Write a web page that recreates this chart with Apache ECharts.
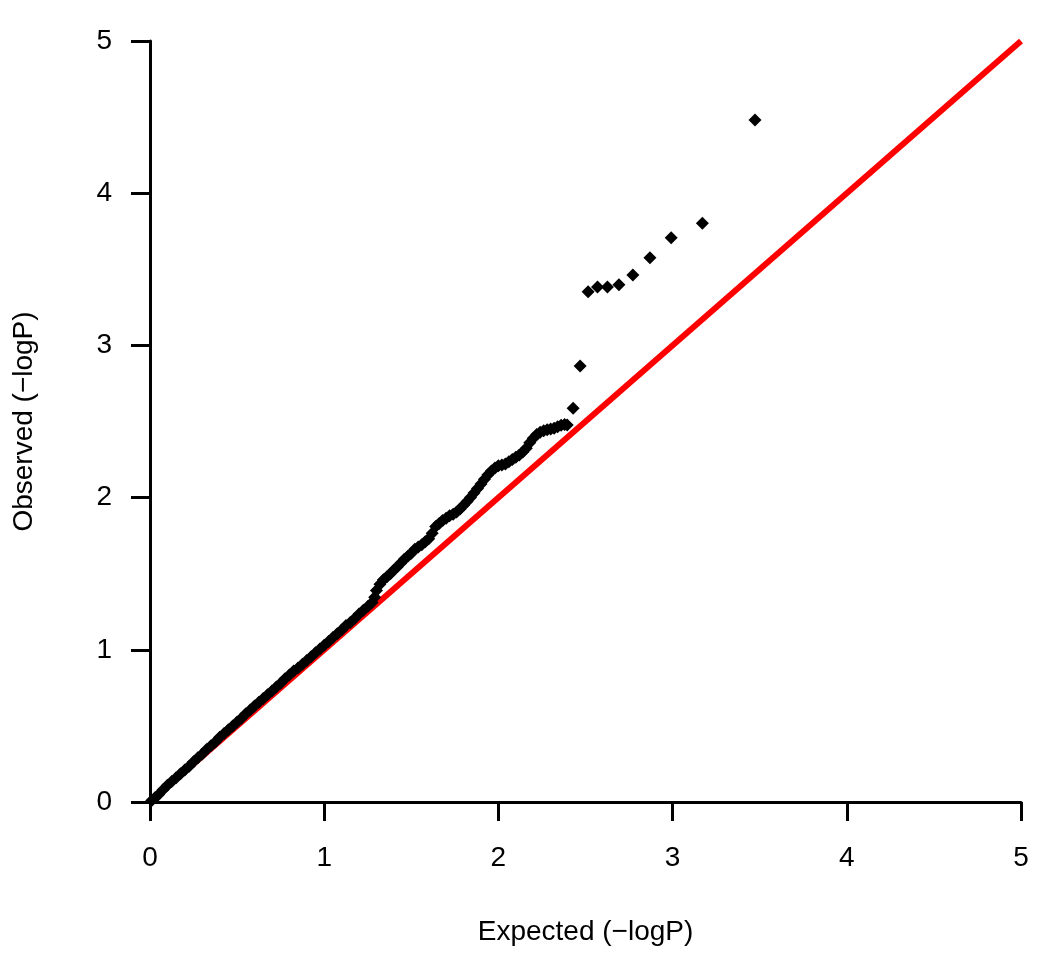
<!DOCTYPE html>
<html>
<head>
<meta charset="utf-8">
<title>QQ plot</title>
<script src="https://cdn.jsdelivr.net/npm/echarts@6/dist/echarts.min.js"></script>
<style>
  html, body { margin: 0; padding: 0; background: #fff; }
  #chart { width: 1050px; height: 965px; }
</style>
</head>
<body>
<div id="chart"></div>
<script>
// expected (-logP) and observed (-logP)
const expected = [
  0.01, 0.03, 0.05, 0.075, 0.10, 0.125, 0.15, 0.175, 0.20, 0.225,
  0.25, 0.275, 0.30, 0.325, 0.35, 0.375, 0.40, 0.425, 0.45, 0.475,
  0.50, 0.525, 0.55, 0.575, 0.60, 0.625, 0.65, 0.675, 0.70, 0.725,
  0.75, 0.775, 0.80, 0.825, 0.85, 0.875, 0.90, 0.925, 0.95, 0.975,
  1.00, 1.025, 1.05, 1.075, 1.10, 1.125, 1.15, 1.175, 1.20, 1.225,
  1.25, 1.275, 1.29, 1.30, 1.32, 1.34, 1.36, 1.38, 1.40, 1.42,
  1.44, 1.46, 1.48, 1.50, 1.52, 1.54, 1.56, 1.58, 1.60, 1.62,
  1.64, 1.66, 1.68, 1.70, 1.72, 1.74, 1.76, 1.78, 1.80, 1.82,
  1.84, 1.86, 1.88, 1.90, 1.92, 1.94, 1.96, 1.98, 2.00, 2.02,
  2.04, 2.06, 2.08, 2.10, 2.12, 2.14, 2.16, 2.18, 2.20, 2.22,
  2.24, 2.26, 2.28, 2.30, 2.32, 2.34, 2.36, 2.38, 2.395,
  2.429, 2.469, 2.515, 2.569, 2.626, 2.692, 2.772, 2.870, 2.992, 3.171, 3.473
];
const observed = [
  0.01, 0.03, 0.05, 0.08, 0.11, 0.135, 0.16, 0.185, 0.21, 0.235,
  0.265, 0.29, 0.315, 0.345, 0.37, 0.395, 0.425, 0.45, 0.475, 0.50,
  0.525, 0.55, 0.58, 0.605, 0.63, 0.655, 0.68, 0.705, 0.73, 0.755,
  0.78, 0.81, 0.835, 0.86, 0.88, 0.905, 0.93, 0.955, 0.98, 1.005,
  1.03, 1.055, 1.08, 1.105, 1.13, 1.16, 1.18, 1.205, 1.235, 1.26,
  1.285, 1.31, 1.345, 1.39, 1.43, 1.46, 1.48, 1.50, 1.525, 1.545,
  1.57, 1.595, 1.615, 1.635, 1.66, 1.675, 1.69, 1.71, 1.73, 1.765,
  1.81, 1.83, 1.85, 1.865, 1.88, 1.89, 1.905, 1.925, 1.95, 1.975,
  2.00, 2.03, 2.06, 2.09, 2.12, 2.15, 2.175, 2.195, 2.21, 2.215,
  2.22, 2.235, 2.25, 2.265, 2.28, 2.30, 2.325, 2.36, 2.39, 2.415,
  2.43, 2.44, 2.445, 2.45, 2.455, 2.465, 2.475, 2.48, 2.477,
  2.587, 2.865, 3.353, 3.384, 3.384, 3.399, 3.463, 3.576, 3.708, 3.802, 4.481
];
// y = x reference line
const refLine = [[0, 0], [5, 5]];
const axisTicks = [0, 1, 2, 3, 4, 5];

const chart = echarts.init(document.getElementById('chart'));
const font = 'Liberation Sans, Arial, sans-serif';

const axisCommon = {
  type: 'value',
  min: axisTicks[0],
  max: axisTicks[axisTicks.length - 1],
  interval: 1,
  splitLine: { show: false },
  axisLine: { show: true, onZero: false, lineStyle: { color: '#000', width: 3 } },
  axisTick: { show: true, length: 19, lineStyle: { color: '#000', width: 3 } },
  nameLocation: 'middle',
  nameTextStyle: { fontFamily: font, fontSize: 28, color: '#000' },
};

const option = {
  animation: false,
  backgroundColor: '#fff',
  grid: { left: 150, right: 29, top: 41, bottom: 163 },
  xAxis: {
    ...axisCommon,
    name: 'Expected (\u2212logP)',
    nameGap: 116,
    axisLabel: { fontFamily: font, fontSize: 28, color: '#000', margin: 42 },
  },
  yAxis: {
    ...axisCommon,
    name: 'Observed (\u2212logP)',
    nameGap: 112,
    axisLabel: { fontFamily: font, fontSize: 28, color: '#000', margin: 38 },
  },
  series: [
    {
      type: 'line',
      data: refLine,
      symbol: 'none',
      lineStyle: { color: '#ff0000', width: 6 },
      z: 1,
    },
    {
      type: 'scatter',
      data: expected.map((x, i) => [x, observed[i]]),
      symbol: 'diamond',
      symbolSize: 13,
      itemStyle: { color: '#000', opacity: 1 },
      z: 2,
    },
  ],
};

chart.setOption(option);
</script>
</body>
</html>
